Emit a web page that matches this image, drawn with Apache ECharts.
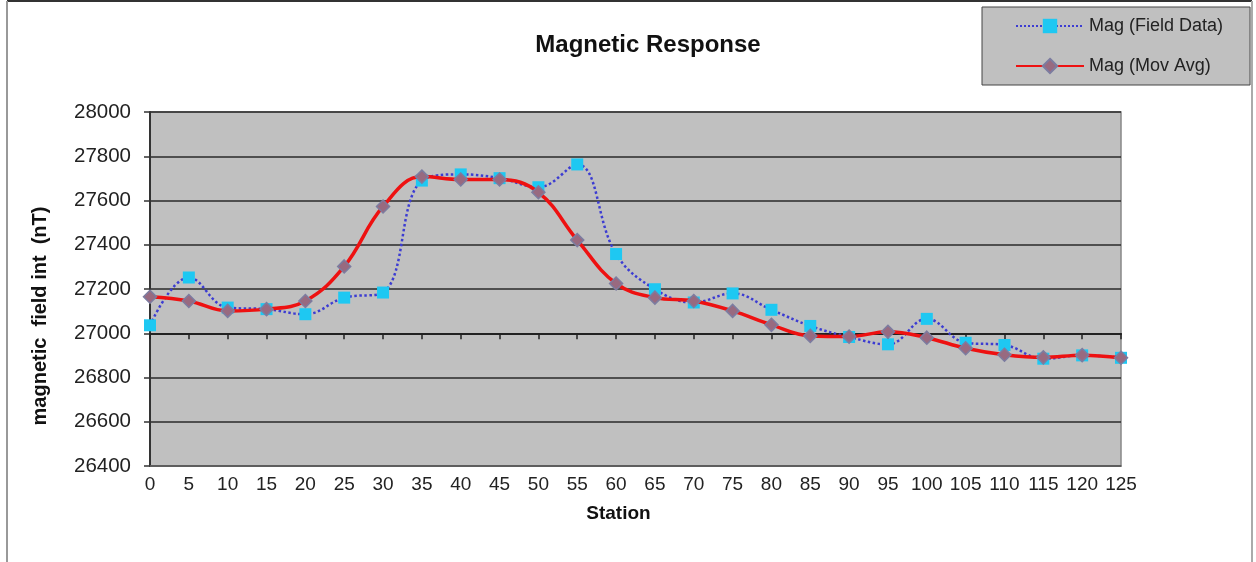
<!DOCTYPE html>
<html>
<head>
<meta charset="utf-8">
<script src="https://cdn.jsdelivr.net/npm/echarts@6/dist/echarts.min.js"></script>
<style>
html,body{margin:0;padding:0;background:#fff;}
#chart{width:1256px;height:562px;}
</style>
</head>
<body>
<div id="chart"></div>
<script>
const stations = ['0','5','10','15','20','25','30','35','40','45','50','55','60','65','70','75','80','85','90','95','100','105','110','115','120','125'];
const fieldData = [27036,27252,27116,27109,27086,27161,27184,27690,27718,27701,27660,27763,27358,27199,27139,27180,27106,27033,26983,26950,27065,26957,26947,26885,26900,26889];
const movAvg = [27165,27146,27101,27109,27146,27302,27573,27708,27695,27695,27637,27421,27225,27161,27146,27101,27038,26988,26985,27007,26980,26932,26903,26891,26901,26889];
const yMin = 26400, yMax = 28000, yStep = 200, xCross = 27000;

const gridTop = 112, gridBottom = 96, chartH = 562;
const gridH = chartH - gridTop - gridBottom;
const crossOffset = -(xCross - yMin) / (yMax - yMin) * gridH;

const chart = echarts.init(document.getElementById('chart'), null, {renderer:'canvas'});
const font = 'Arial, "Liberation Sans", sans-serif';
chart.setOption({
  animation:false,
  textStyle:{fontFamily:font},
  title:{
    text:'Magnetic Response',
    left:643, top:28, textAlign:'center',
    textStyle:{fontSize:24, fontWeight:'bold', color:'#111', fontFamily:font}
  },
  legend:{
    orient:'vertical',
    left:982, top:7,
    padding:[10,27,10,33],
    itemWidth:68, itemHeight:18, itemGap:22,
    backgroundColor:'#c0c0c0',
    borderColor:'#444', borderWidth:1,
    textStyle:{fontSize:18, color:'#222', fontFamily:font},
    data:['Mag (Field Data)','Mag (Mov Avg)']
  },
  graphic:[
    {type:'line', shape:{x1:7,y1:1,x2:1252,y2:1}, style:{stroke:'#333', lineWidth:2}, z:100},
    {type:'line', shape:{x1:7,y1:1,x2:7,y2:562}, style:{stroke:'#999', lineWidth:2}, z:100},
    {type:'line', shape:{x1:1252,y1:1,x2:1252,y2:562}, style:{stroke:'#aaa', lineWidth:2}, z:100}
  ],
  grid:{
    left:150, right:135, top:gridTop, bottom:gridBottom,
    show:true, backgroundColor:'#c0c0c0', borderColor:'#888', borderWidth:1.5
  },
  xAxis:[{
    type:'category', data:stations, boundaryGap:false,
    axisLine:{show:true, lineStyle:{color:'#666', width:1.5}},
    axisTick:{show:false},
    axisLabel:{fontSize:19, color:'#222', margin:9, interval:0, fontFamily:font},
    splitLine:{show:false},
    name:'Station', nameLocation:'middle', nameGap:38,
    nameTextStyle:{fontSize:19, fontWeight:'bold', color:'#111', padding:[0,34,0,0], fontFamily:font}
  },{
    type:'category', data:stations, boundaryGap:false, position:'bottom',
    offset:crossOffset,
    axisLine:{show:true, lineStyle:{color:'#222', width:2}},
    axisTick:{show:true, inside:false, length:6, interval:0, lineStyle:{color:'#222', width:1.5}},
    axisLabel:{show:false},
    splitLine:{show:false}
  }],
  yAxis:{
    type:'value', min:yMin, max:yMax, interval:yStep,
    axisLine:{show:true, lineStyle:{color:'#333', width:2}},
    axisTick:{show:true, inside:false, length:6, lineStyle:{color:'#333', width:1.5}},
    axisLabel:{fontSize:20.5, color:'#222', margin:19, fontFamily:font, formatter:function(v){return String(v);}},
    splitLine:{show:true, lineStyle:{color:'#2a2a2a', width:1.6}},
    name:'magnetic  field int  (nT)', nameLocation:'middle', nameGap:100, nameRotate:90,
    nameTextStyle:{fontSize:20, fontWeight:'bold', color:'#111', padding:[0,54,0,0], fontFamily:font}
  },
  series:[{
    name:'Mag (Field Data)', type:'line', data:fieldData, smooth:0.4,
    symbol:'rect', symbolSize:12,
    itemStyle:{color:'#1ec8f2'},
    lineStyle:{color:'#3c3cd2', width:2.5, type:'dotted'},
    z:2
  },{
    name:'Mag (Mov Avg)', type:'line', data:movAvg, smooth:0.4,
    symbol:'diamond', symbolSize:13,
    itemStyle:{color:'#986a80', borderColor:'#7c7ca0', borderWidth:1.5},
    lineStyle:{color:'#ee1111', width:3.5},
    z:3
  }]
});
</script>
</body>
</html>
